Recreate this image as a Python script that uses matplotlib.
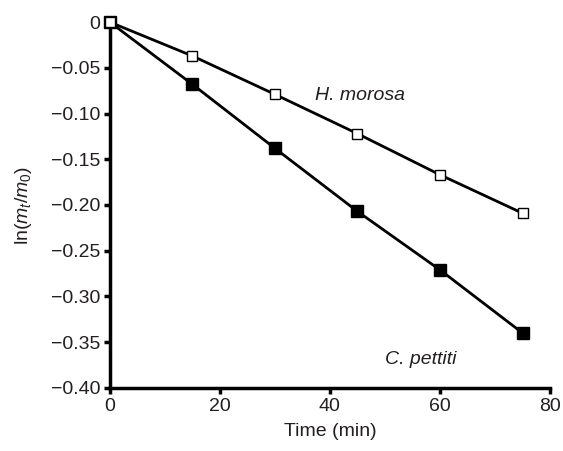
import numpy as np
import matplotlib
matplotlib.use('Agg')
import matplotlib.pyplot as plt

plt.rcParams['font.family'] = ['Liberation Sans', 'DejaVu Sans']
plt.rcParams['mathtext.fontset'] = 'custom'
plt.rcParams['mathtext.rm'] = 'Liberation Sans'
plt.rcParams['mathtext.it'] = 'Liberation Sans:italic'

time = [0, 15, 30, 45, 60, 75]
h_morosa = [0, -0.037, -0.079, -0.122, -0.167, -0.209]
c_pettiti = [0, -0.068, -0.138, -0.207, -0.271, -0.340]
xticks = [0, 20, 40, 60, 80]
yticks = [0, -0.05, -0.10, -0.15, -0.20, -0.25, -0.30, -0.35, -0.40]
ylabels = ['0', '\u22120.05', '\u22120.10', '\u22120.15', '\u22120.20',
           '\u22120.25', '\u22120.30', '\u22120.35', '\u22120.40']

txt = '#231f20'
fig = plt.figure(figsize=(5.63, 4.51), dpi=100)
ax = fig.add_axes([0.195, 0.14, 0.782, 0.811])

ax.plot(time, c_pettiti, color='black', lw=2, marker='s', ms=8,
        mfc='black', mec='black', zorder=3, clip_on=False)
ax.plot(time, h_morosa, color='black', lw=2, marker='s', ms=7.5,
        mfc='white', mec='black', mew=1, zorder=4, clip_on=False)

ax.text(37.3, -0.08, 'H. morosa', fontsize=14, style='italic', va='center', color=txt)
ax.text(50, -0.369, 'C. pettiti', fontsize=14, style='italic', va='center', color=txt)

ax.set_xlim(0, 80)
ax.set_ylim(-0.40, 0)
ax.set_xticks(xticks)
ax.set_yticks(yticks)
ax.set_yticklabels(ylabels)
ax.tick_params(labelsize=14, width=2.5, length=4, direction='out', color='black',
               labelcolor=txt, pad=3)
for s in ['top', 'right']:
    ax.spines[s].set_visible(False)
for s in ['left', 'bottom']:
    ax.spines[s].set_linewidth(2.5)
ax.set_xlabel('Time (min)', fontsize=14, labelpad=6, color=txt)
ax.set_ylabel(r'ln($m_t$/$m_0$)', fontsize=14, labelpad=12, color=txt)

fig.savefig('out.png', dpi=100)
